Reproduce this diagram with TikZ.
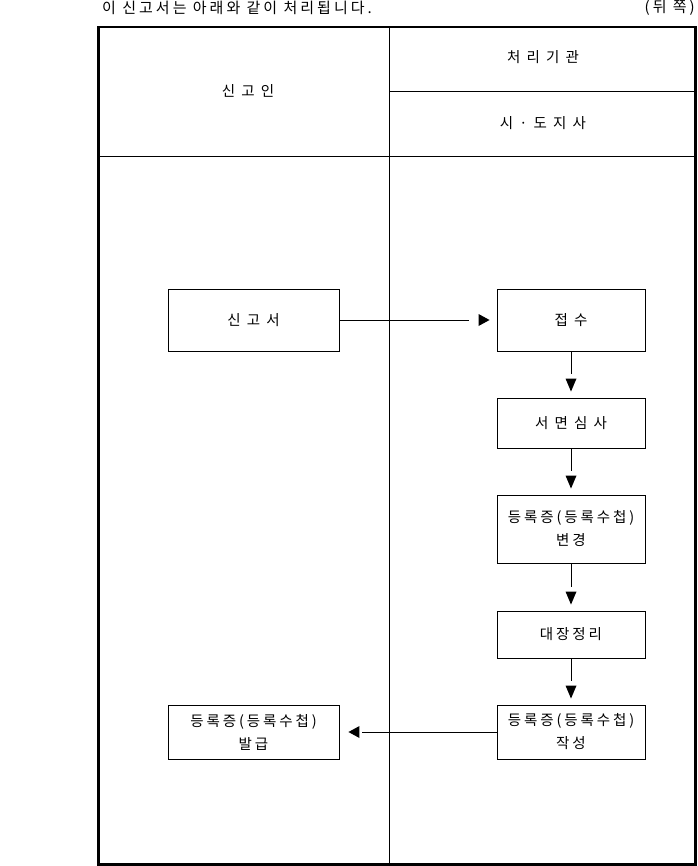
\documentclass[tikz,border=0pt]{standalone}
\usepackage{fontspec}
\setmainfont[LetterSpace=20]{Noto Sans CJK KR}
\usetikzlibrary{calc}
\begin{document}
\begin{tikzpicture}[x=1pt,y=-1pt,
  every node/.style={font=\fontsize{14.5}{23}\selectfont},
  box/.style={draw,line width=0.9pt,inner sep=0pt,align=center},
  wide/.style={box,minimum width=171pt},
  narrow/.style={box,minimum width=148pt},
  conn/.style={line width=0.9pt},
  tri/.style={fill=black}]
\useasboundingbox (0,0) rectangle (697,866);
% title
\node[anchor=west,inner sep=0pt,font=\fontsize{15}{18}\selectfont] (title) at (102,8) {이 신고서는 아래와 같이 처리됩니다.};
\node[anchor=east,inner sep=0pt,font=\fontsize{15}{18}\selectfont] (side) at (695,8) {(뒤 쪽)};
% frame
\draw[line width=2.6pt] (98.5,27) rectangle (695.5,864.5);
\draw[line width=0.9pt] (389,27) -- (389,864.5);
\draw[line width=0.9pt] (98.5,156) -- (695.5,156);
\draw[line width=0.9pt] (389,91) -- (695.5,91);
\node (h1) at (248,91) {신 고 인};
\node (h2) at (543,57) {처 리 기 관};
\node (h3) at (543,123) {시 · 도 지 사};
% boxes
\node[wide,minimum height=62pt] (sgs) at (253.5,320) {신 고 서};
\node[narrow,minimum height=62pt] (jsu) at (571,320) {접 수};
\node[narrow,minimum height=50pt] (smss) at (571,423) {서 면 심 사};
\node[narrow,minimum height=68pt] (bgy) at (571,529) {등록증(등록수첩)\\변경};
\node[narrow,minimum height=47pt] (djjr) at (571,634.5) {대장정리};
\node[narrow,minimum height=54pt] (jsg) at (571,732) {등록증(등록수첩)\\작성};
\node[wide,minimum height=54pt] (bgp) at (253.5,732) {등록증(등록수첩)\\발급};
% connectors
\coordinate (e1) at ($(jsu.west)+(-28,0)$);
\draw[conn] (sgs.east) -- (e1);
\fill[tri] ($(jsu.west)+(-18,-6)$) -- ($(jsu.west)+(-7,0)$) -- ($(jsu.west)+(-18,6)$) -- cycle;
\coordinate (e2) at ($(smss.north)+(0,-24)$);
\draw[conn] (jsu.south) -- (e2);
\fill[tri] ($(smss.north)+(-5.5,-19)$) -- ($(smss.north)+(0,-6)$) -- ($(smss.north)+(5.5,-19)$) -- cycle;
\coordinate (e3) at ($(bgy.north)+(0,-24)$);
\draw[conn] (smss.south) -- (e3);
\fill[tri] ($(bgy.north)+(-5.5,-19)$) -- ($(bgy.north)+(0,-6)$) -- ($(bgy.north)+(5.5,-19)$) -- cycle;
\coordinate (e4) at ($(djjr.north)+(0,-24)$);
\draw[conn] (bgy.south) -- (e4);
\fill[tri] ($(djjr.north)+(-5.5,-19)$) -- ($(djjr.north)+(0,-6)$) -- ($(djjr.north)+(5.5,-19)$) -- cycle;
\coordinate (e5) at ($(jsg.north)+(0,-24)$);
\draw[conn] (djjr.south) -- (e5);
\fill[tri] ($(jsg.north)+(-5.5,-19)$) -- ($(jsg.north)+(0,-6)$) -- ($(jsg.north)+(5.5,-19)$) -- cycle;
\coordinate (e6) at ($(bgp.east)+(23,0)$);
\draw[conn] (jsg.west) -- (e6);
\fill[tri] ($(bgp.east)+(20,-6)$) -- ($(bgp.east)+(9,0)$) -- ($(bgp.east)+(20,6)$) -- cycle;
\end{tikzpicture}
\end{document}
